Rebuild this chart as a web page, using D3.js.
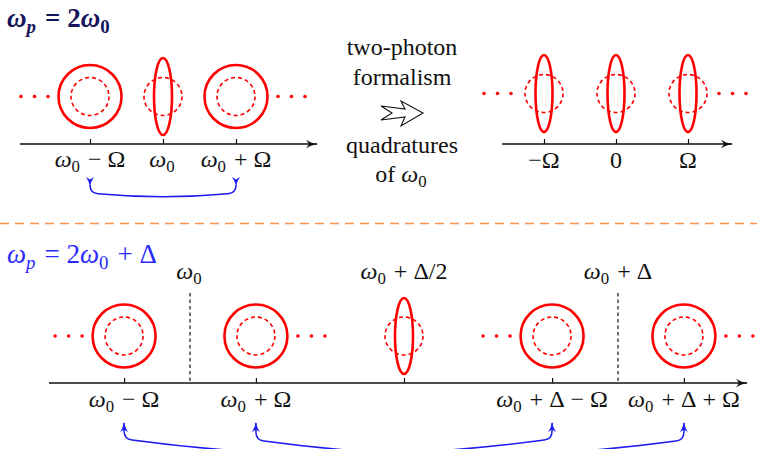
<!DOCTYPE html>
<html>
<head>
<meta charset="utf-8">
<script src="https://cdn.jsdelivr.net/npm/d3@7"></script>
<style>
  html, body { margin: 0; padding: 0; background: #fff; }
  svg { display: block; }
</style>
</head>
<body>
<div id="app"></div>
<script>
// THE DATA
// labels use "_" for a one-char subscript
const topTicks = [-1, 0, 1];                         // in units of Omega
const topLabels = ['ω_0 − Ω', 'ω_0', 'ω_0 + Ω'];
const topStates = ['coherent', 'squeezed', 'coherent'];
const quadTicks = [-1, 0, 1];
const quadLabels = ['−Ω', '0', 'Ω'];
const quadStates = ['squeezed', 'squeezed', 'squeezed'];

// bottom panel, in units of Delta (omega_0 = 0)
const omega = 0.154;                                  // Omega / Delta
const botTicks = [-omega, omega, 0.5, 1 - omega, 1 + omega];
const botLabels = ['ω_0 − Ω', 'ω_0 + Ω', '', 'ω_0 + Δ − Ω', 'ω_0 + Δ + Ω'];
const botStates = ['coherent', 'coherent', 'squeezed', 'coherent', 'coherent'];
const botMarkers = [0, 0.5, 1];
const botMarkerLabels = ['ω_0', 'ω_0 + Δ/2', 'ω_0 + Δ'];
const botDashed = [0, 1];
const botDots = [['left', 0], ['right', 1], ['left', 3], ['right', 4]]; // side, state index
const botPairs = [[0, 3], [1, 4]];

const W = 757, H = 449;
const red = '#ff0000', blue = '#1c1cf0';
const serif = '"Liberation Serif"';

const svg = d3.select('#app').append('svg')
	.attr('width', W)
	.attr('height', H)
	.attr('viewBox', [0, 0, W, H]);

const defs = svg.append('defs');
defs.append('marker')
	.attr('id', 'axhead')
	.attr('viewBox', '0 -5 12 10')
	.attr('refX', 11).attr('refY', 0)
	.attr('markerUnits', 'userSpaceOnUse')
	.attr('markerWidth', 12).attr('markerHeight', 10)
	.attr('orient', 'auto')
	.append('path')
	.attr('d', 'M0,-4.5 Q4,-1 12,0 Q4,1 0,4.5 L3,0 Z')
	.attr('fill', '#111');
defs.append('marker')
	.attr('id', 'bluehead')
	.attr('viewBox', '0 -4 10 8')
	.attr('refX', 9).attr('refY', 0)
	.attr('markerUnits', 'userSpaceOnUse')
	.attr('markerWidth', 10).attr('markerHeight', 8)
	.attr('orient', 'auto-start-reverse')
	.append('path')
	.attr('d', 'M0,-4 Q4,-1 10,0 Q4,1 0,4 L2.5,0 Z')
	.attr('fill', blue);

// math-ish label: omega / p italic, "_x" subscript
const isVar = c => c === 'ω' || c === 'p';
const mathText = (g, x, y, str, opts = {}) => {
	const size = opts.size || 24;
	const t = g.append('text')
		.attr('x', x).attr('y', y)
		.attr('text-anchor', opts.anchor || 'middle')
		.style('font-family', serif)
		.style('font-size', `${size}px`)
		.style('font-weight', opts.bold ? 'bold' : 'normal')
		.style('fill', opts.color || '#111');
	let i = 0;
	while (i < str.length) {
		const c = str[i];
		if (c === '_') {
			const s = str[i + 1];
			t.append('tspan')
				.attr('dy', size * 0.22)
				.style('font-size', `${size * 0.7}px`)
				.style('font-style', isVar(s) ? 'italic' : 'normal')
				.text(s);
			t.append('tspan').attr('dy', -size * 0.22).text('\u200a');
			i += 2;
			continue;
		}
		t.append('tspan')
			.style('font-style', isVar(c) ? 'italic' : 'normal')
			.text(c === ' ' ? '\u00a0' : c);
		i += 1;
	}
	return t;
};

const drawAxis = (g, x0, x1, y) => {
	g.append('line')
		.attr('x1', x0).attr('x2', x1 - 2)
		.attr('y1', y).attr('y2', y)
		.attr('stroke', '#111')
		.attr('stroke-width', 1.3)
		.attr('marker-end', 'url(#axhead)');
};

const drawTicks = (g, scale, ticks, y) => {
	g.append('g')
		.attr('transform', `translate(0,${y})`)
		.call(d3.axisBottom(scale)
			.tickValues(ticks)
			.tickSize(-5)
			.tickSizeOuter(0)
			.tickFormat(''))
		.call(a => a.select('.domain').remove())
		.call(a => a.selectAll('.tick line').attr('stroke', '#111').attr('stroke-width', 1.2));
};

const drawState = (g, cx, cy, kind, sq) => {
	// dashed vacuum circle
	g.append('circle')
		.attr('cx', cx).attr('cy', cy).attr('r', 19)
		.attr('fill', 'none').attr('stroke', red)
		.attr('stroke-width', 1.6).attr('stroke-dasharray', '4,3');
	if (kind === 'coherent') {
		g.append('circle')
			.attr('cx', cx).attr('cy', cy).attr('r', 31.5)
			.attr('fill', 'none').attr('stroke', red).attr('stroke-width', 2.6);
	} else {
		g.append('ellipse')
			.attr('cx', cx).attr('cy', cy).attr('rx', sq.rx).attr('ry', sq.ry)
			.attr('fill', 'none').attr('stroke', red).attr('stroke-width', 2.6);
	}
};

const drawDots = (g, cx, cy, side, edge) => {
	[0, 1, 2].forEach(k => {
		const dx = side === 'left' ? -(edge + 10 + k * 13.5) : edge + 10 + k * 13.5;
		g.append('circle')
			.attr('cx', cx + dx).attr('cy', cy).attr('r', 1.8)
			.attr('fill', red);
	});
};

const bluePair = (g, xa, xb, yt, yc, depth) => {
	const r = 8;
	const xm = (xa + xb) / 2;
	const s = r * 2 * depth / (xm - xa - r);
	const p = d3.path();
	p.moveTo(xa, yt + 8);
	p.lineTo(xa, yc - r);
	p.quadraticCurveTo(xa, yc, xa + r, yc + s);
	p.quadraticCurveTo(xm, yc + s + 2 * depth, xb - r, yc + s);
	p.quadraticCurveTo(xb, yc, xb, yc - r);
	p.lineTo(xb, yt + 8);
	g.append('path')
		.attr('d', p.toString())
		.attr('fill', 'none')
		.attr('stroke', blue)
		.attr('stroke-width', 1.5)
		.attr('marker-start', 'url(#bluehead)')
		.attr('marker-end', 'url(#bluehead)');
};

// ---- top left: omega_p = 2 omega_0
const gTL = svg.append('g');
const xTL = d3.scaleLinear().domain([-1, 1]).range([90, 236]);
const yTL = 96.5, axTL = 144;
mathText(gTL, 7, 27, 'ω_p = 2ω_0', { anchor: 'start', size: 27, bold: true, color: '#15155c' });
topTicks.forEach((t, i) => drawState(gTL, xTL(t), yTL, topStates[i], { rx: 9, ry: 38.5 }));
drawDots(gTL, xTL(topTicks[0]), yTL, 'left', 32);
drawDots(gTL, xTL(topTicks[2]), yTL, 'right', 32);
drawAxis(gTL, 20, 319, axTL);
drawTicks(gTL, xTL, topTicks, axTL);
topTicks.forEach((t, i) => mathText(gTL, xTL(t), 167, topLabels[i]));
bluePair(gTL, xTL(topTicks[0]), xTL(topTicks[2]), 178, 193, 3);

// ---- middle: two-photon formalism text and hollow arrow
const gMid = svg.append('g');
const midX = 402;
[['two-photon', 55], ['formalism', 85], ['quadratures', 153]].forEach(([s, y]) => {
	gMid.append('text')
		.attr('x', midX).attr('y', y)
		.attr('text-anchor', 'middle')
		.style('font-family', serif)
		.style('font-size', '24px')
		.style('fill', '#111')
		.text(s);
});
mathText(gMid, midX, 182, 'of ω_0', { size: 24 });
gMid.append('path')
	.attr('d', d3.line()([[381, 106], [405, 109], [401, 101], [423, 113], [401, 126], [405, 117], [381, 120], [392, 113]]) + 'Z')
	.attr('fill', '#fff')
	.attr('stroke', '#111')
	.attr('stroke-width', 1.1)
	.attr('stroke-linejoin', 'miter');

// ---- top right: quadratures of omega_0
const gTR = svg.append('g');
const xTR = d3.scaleLinear().domain([-1, 1]).range([544, 688]);
const yTR = 93.5;
quadTicks.forEach((t, i) => drawState(gTR, xTR(t), yTR, quadStates[i], { rx: 8.5, ry: 38.5 }));
drawDots(gTR, xTR(quadTicks[0]), yTR, 'left', 23);
drawDots(gTR, xTR(quadTicks[2]), yTR, 'right', 21);
drawAxis(gTR, 502, 734, axTL);
drawTicks(gTR, xTR, quadTicks, axTL);
quadTicks.forEach((t, i) => mathText(gTR, xTR(t), 168, quadLabels[i]));

// ---- separator
svg.append('line')
	.attr('x1', 0).attr('x2', W)
	.attr('y1', 223.5).attr('y2', 223.5)
	.attr('stroke', '#f7944a')
	.attr('stroke-width', 1.6)
	.attr('stroke-dasharray', '9,6');

// ---- bottom: omega_p = 2 omega_0 + Delta
const gB = svg.append('g');
const xB = d3.scaleLinear().domain([0, 1]).range([190, 618]);
const yB = 336, axB = 383;
mathText(gB, 7, 263, 'ω_p = 2ω_0 + Δ', { anchor: 'start', size: 27, color: '#2a2aff' });
botDashed.forEach(d => {
	gB.append('line')
		.attr('x1', xB(d)).attr('x2', xB(d))
		.attr('y1', 293).attr('y2', axB)
		.attr('stroke', '#111')
		.attr('stroke-width', 1.2)
		.attr('stroke-dasharray', '3.5,3');
});
botTicks.forEach((t, i) => drawState(gB, xB(t), yB, botStates[i], { rx: 9, ry: 38 }));
botDots.forEach(([side, i]) => drawDots(gB, xB(botTicks[i]), yB, side, 32));
drawAxis(gB, 49, 749, axB);
drawTicks(gB, xB, botTicks, axB);
botTicks.forEach((t, i) => { if (botLabels[i]) mathText(gB, xB(t), 407, botLabels[i]); });
botMarkers.forEach((m, i) => mathText(gB, xB(m), 279, botMarkerLabels[i]));
botPairs.forEach(([a, b], k) => {
	bluePair(gB, xB(botTicks[a]), xB(botTicks[b]), 415, 439 + k, 14);
});
</script>
</body>
</html>
